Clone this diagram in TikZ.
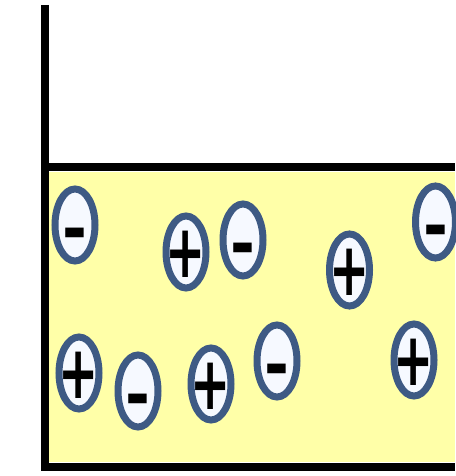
\documentclass[tikz,border=0pt]{standalone}
\usepackage{graphicx}
\usepackage{fontspec}
\usepackage{xcolor}
\usepackage{tikz}
\usetikzlibrary{shapes.geometric}
\newfontfamily\signfont{DejaVu Sans}
\definecolor{Brine}{HTML}{FFFFA8}
\definecolor{IonRing}{HTML}{3E5A84}
\definecolor{IonCore}{HTML}{F6F9FF}
\newcommand{\plussign}{\makebox[0pt]{\raisebox{-25pt}[0pt][0pt]{\scalebox{1.2}[1.85]{+}}}}
\newcommand{\minussign}{\makebox[0pt]{\raisebox{-27pt}[0pt][0pt]{\scalebox{1.5}[1.7]{-}}}}

\begin{document}
\begin{tikzpicture}[x=1pt,y=-1pt,
  wall/.style={line width=8.5pt,draw=black},
  ion/.style={ellipse,draw=IonRing,line width=7pt,fill=IonCore,
              minimum width=40pt,minimum height=72pt,inner sep=0pt,
              font=\signfont\bfseries\fontsize{40}{40}\selectfont}]
\useasboundingbox (0,0) rectangle (455,476);

% solution
\fill[Brine] (49,172) rectangle (455,462);

% vessel and surface
\draw[wall,line join=miter] (45,5) -- (45,467) -- (455,467);
\draw[wall] (45,167) -- (455,167);

% anions
\foreach \n/\x/\y in {1/75/225,2/243/240,3/435.5/222,4/138/391,5/277/361}
  \node[ion] (m\n) at (\x,\y) {\minussign};

% cations
\foreach \n/\x/\y in {1/186/252,2/349.5/270,3/79/373,4/211/384,5/414/360}
  \node[ion] (p\n) at (\x,\y) {\plussign};

\end{tikzpicture}
\end{document}
